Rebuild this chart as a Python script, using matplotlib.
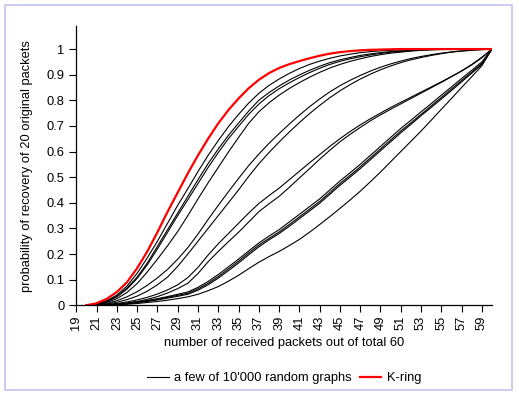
import matplotlib
matplotlib.use("Agg")
import matplotlib.pyplot as plt
from matplotlib.patches import Rectangle

plt.rcParams['font.family'] = ['Liberation Sans', 'DejaVu Sans']

X = list(range(20, 61))

kring = [0, 0.008, 0.025, 0.052, 0.09, 0.145, 0.21, 0.285, 0.365, 0.44,
         0.515, 0.585, 0.65, 0.71, 0.762, 0.807, 0.847, 0.88, 0.906, 0.926,
         0.941, 0.953, 0.964, 0.974, 0.982, 0.988, 0.992, 0.995, 0.997, 0.998,
         0.999, 1, 1, 1, 1, 1, 1, 1, 1, 1, 1]

a1 = [0, 0.005, 0.018, 0.04, 0.075, 0.125, 0.185, 0.25, 0.32, 0.39,
      0.455, 0.522, 0.585, 0.643, 0.697, 0.745, 0.789, 0.827, 0.858, 0.883,
      0.905, 0.924, 0.94, 0.953, 0.964, 0.973, 0.98, 0.986, 0.99, 0.993,
      0.995, 0.997, 0.998, 0.999, 1, 1, 1, 1, 1, 1, 1]
a2 = [0, 0.004, 0.015, 0.035, 0.067, 0.11, 0.165, 0.23, 0.295, 0.36,
      0.425, 0.49, 0.553, 0.61, 0.663, 0.711, 0.758, 0.80, 0.83, 0.856,
      0.879, 0.899, 0.917, 0.933, 0.947, 0.958, 0.967, 0.975, 0.981, 0.986,
      0.99, 0.993, 0.995, 0.997, 0.998, 0.999, 1, 1, 1, 1, 1]
a3 = [0, 0.004, 0.014, 0.033, 0.063, 0.105, 0.158, 0.22, 0.285, 0.35,
      0.412, 0.475, 0.538, 0.596, 0.65, 0.698, 0.745, 0.785, 0.818, 0.845,
      0.868, 0.889, 0.908, 0.925, 0.94, 0.952, 0.962, 0.97, 0.977, 0.983,
      0.988, 0.991, 0.994, 0.996, 0.998, 0.999, 1, 1, 1, 1, 1]
a4 = [0, 0.003, 0.011, 0.026, 0.05, 0.085, 0.13, 0.18, 0.232, 0.288,
      0.35, 0.415, 0.478, 0.538, 0.598, 0.655, 0.71, 0.755, 0.79, 0.82,
      0.846, 0.869, 0.89, 0.909, 0.926, 0.94, 0.952, 0.962, 0.971, 0.978,
      0.984, 0.988, 0.992, 0.995, 0.997, 0.998, 0.999, 1, 1, 1, 1]
b1 = [0, 0.002, 0.008, 0.018, 0.033, 0.053, 0.078, 0.107, 0.14, 0.18,
      0.225, 0.278, 0.335, 0.39, 0.443, 0.495, 0.545, 0.59, 0.632, 0.67,
      0.707, 0.742, 0.775, 0.805, 0.833, 0.857, 0.878, 0.897, 0.914, 0.929,
      0.942, 0.953, 0.963, 0.971, 0.978, 0.984, 0.989, 0.993, 0.996, 0.998, 1]
b2 = [0, 0.001, 0.005, 0.012, 0.022, 0.036, 0.055, 0.08, 0.11, 0.152,
      0.2, 0.25, 0.3, 0.35, 0.4, 0.45, 0.503, 0.552, 0.596, 0.637,
      0.676, 0.713, 0.748, 0.78, 0.81, 0.837, 0.861, 0.883, 0.902, 0.919,
      0.934, 0.947, 0.958, 0.967, 0.975, 0.982, 0.988, 0.992, 0.995, 0.998, 1]
c1 = [0, 0.001, 0.003, 0.007, 0.013, 0.021, 0.031, 0.044, 0.06, 0.08,
      0.108, 0.148, 0.196, 0.24, 0.28, 0.32, 0.36, 0.397, 0.428, 0.457,
      0.49, 0.523, 0.556, 0.588, 0.62, 0.65, 0.678, 0.704, 0.728, 0.75,
      0.772, 0.792, 0.812, 0.832, 0.852, 0.872, 0.893, 0.915, 0.94, 0.968, 1]
c2 = [0, 0, 0.002, 0.005, 0.009, 0.015, 0.023, 0.034, 0.048, 0.065,
      0.086, 0.124, 0.17, 0.21, 0.248, 0.285, 0.325, 0.365, 0.396, 0.425,
      0.46, 0.497, 0.533, 0.57, 0.605, 0.638, 0.667, 0.694, 0.72, 0.743,
      0.765, 0.786, 0.807, 0.828, 0.849, 0.87, 0.892, 0.914, 0.938, 0.966, 1]
d1 = [0, 0, 0.002, 0.004, 0.008, 0.013, 0.019, 0.026, 0.034, 0.043,
      0.052, 0.07, 0.093, 0.12, 0.15, 0.18, 0.212, 0.243, 0.27, 0.295,
      0.325, 0.355, 0.385, 0.415, 0.45, 0.485, 0.517, 0.55, 0.585, 0.62,
      0.655, 0.69, 0.722, 0.755, 0.787, 0.82, 0.852, 0.885, 0.917, 0.95, 1]
d2 = [0, 0, 0.001, 0.003, 0.007, 0.012, 0.017, 0.023, 0.031, 0.039,
      0.047, 0.064, 0.086, 0.112, 0.142, 0.172, 0.204, 0.235, 0.261, 0.286,
      0.315, 0.345, 0.375, 0.405, 0.44, 0.475, 0.507, 0.54, 0.575, 0.61,
      0.645, 0.68, 0.712, 0.745, 0.778, 0.811, 0.844, 0.877, 0.91, 0.944, 1]
d3 = [0, 0, 0.001, 0.002, 0.006, 0.01, 0.015, 0.021, 0.028, 0.035,
      0.043, 0.059, 0.08, 0.106, 0.135, 0.165, 0.197, 0.228, 0.255, 0.28,
      0.308, 0.338, 0.368, 0.398, 0.433, 0.468, 0.5, 0.533, 0.568, 0.603,
      0.638, 0.673, 0.706, 0.74, 0.772, 0.805, 0.838, 0.872, 0.906, 0.94, 1]
e1 = [0, 0, 0.001, 0.002, 0.004, 0.007, 0.011, 0.015, 0.02, 0.026,
      0.033, 0.043, 0.057, 0.073, 0.094, 0.117, 0.143, 0.168, 0.19, 0.21,
      0.233, 0.257, 0.285, 0.315, 0.346, 0.378, 0.411, 0.445, 0.482, 0.52,
      0.56, 0.6, 0.64, 0.68, 0.722, 0.765, 0.807, 0.85, 0.892, 0.935, 1]

random_graphs = [a1, a2, a3, a4, b1, b2, c1, c2, d1, d2, d3, e1]

x_ticks = list(range(19, 60, 2))
y_ticks = [0, 0.1, 0.2, 0.3, 0.4, 0.5, 0.6, 0.7, 0.8, 0.9, 1]
y_tick_labels = ['0', '0.1', '0.2', '0.3', '0.4', '0.5', '0.6', '0.7', '0.8', '0.9', '1']

FS = 9.3
W, H = 519, 396
fig = plt.figure(figsize=(W / 100, H / 100), dpi=100)
ax = fig.add_axes([76.3 / W, 1 - 305.3 / H, (492 - 76.3) / W, (305.3 - 26) / H])

for i, s in enumerate(random_graphs):
    ax.plot(X, s, color='black', lw=0.8,
            label='a few of 10\'000 random graphs' if i == 0 else None)
ax.plot(X, kring, color='#FF0000', lw=1.6, label='K-ring')

ax.set_xlim(19, 60)
ax.set_ylim(0, 1.09)
ax.set_xticks(x_ticks)
ax.set_xticklabels([str(t) for t in x_ticks], rotation=90)
ax.set_yticks(y_ticks)
ax.set_yticklabels(y_tick_labels)
ax.tick_params(axis='both', direction='out', length=5, width=0.8, labelsize=FS, colors='black')
ax.tick_params(axis='y', pad=3.5)
ax.tick_params(axis='x', pad=2.5)
for side in ['top', 'right']:
    ax.spines[side].set_visible(False)
for side in ['left', 'bottom']:
    ax.spines[side].set_linewidth(0.9)
    ax.spines[side].set_color('black')

fig.text(284 / W, 1 - 343 / H, 'number of received packets out of total 60',
         ha='center', va='center', fontsize=FS)
fig.text(27 / W, 1 - 166 / H, 'probability of recovery of 20 original packets',
         ha='center', va='center', rotation=90, fontsize=FS)

fig.legend(loc='center', bbox_to_anchor=(284 / W, 1 - 378 / H), ncol=2, frameon=False,
           fontsize=FS, handlelength=1.7, handletextpad=0.4, columnspacing=0.6,
           borderpad=0, borderaxespad=0)

fig.patches.append(Rectangle((5 / W, 6 / H), (512 - 5) / W, (390 - 5) / H,
                             transform=fig.transFigure, fill=False,
                             edgecolor='#C4C4F2', lw=1.2))

fig.savefig('out.png', dpi=100)
